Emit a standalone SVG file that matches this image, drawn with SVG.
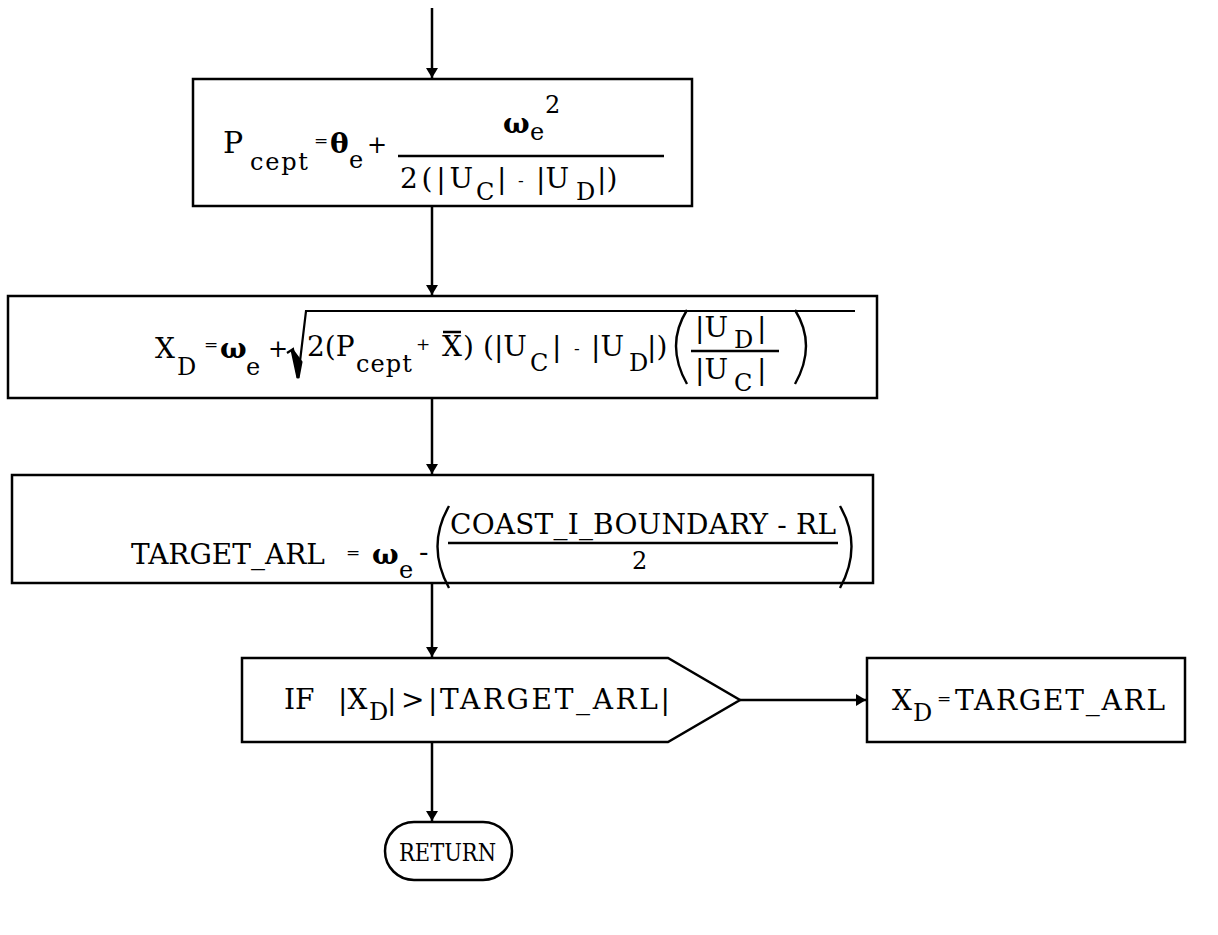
<svg xmlns="http://www.w3.org/2000/svg" width="1218" height="935" viewBox="0 0 1218 935">
<defs>
<style>
.box{fill:#fff;stroke:#000;stroke-width:2.5}
.ln{stroke:#000;stroke-width:2.5;fill:none}
.t{font-family:"DejaVu Serif","Liberation Serif",serif;font-size:28px;fill:#000}
.s{font-family:"DejaVu Serif","Liberation Serif",serif;font-size:24px;fill:#000}
.b{font-weight:bold}
.sm{font-family:"DejaVu Serif","Liberation Serif",serif;font-size:17px;fill:#000}
.r{font-family:"DejaVu Serif","Liberation Serif",serif;font-size:25px;fill:#000}
</style>
<marker id="ah" viewBox="0 0 10 16" refX="10" refY="8" markerWidth="10" markerHeight="16" markerUnits="userSpaceOnUse" orient="auto">
<path d="M0,2 L10,8 L0,14 Z" fill="#000"/>
</marker>
</defs>
<rect width="1218" height="935" fill="#fff"/>
<g id="connectors">
<line class="ln" x1="432" y1="8" x2="432" y2="78" marker-end="url(#ah)"/>
<line class="ln" x1="432" y1="206" x2="432" y2="295" marker-end="url(#ah)"/>
<line class="ln" x1="432" y1="398" x2="432" y2="474" marker-end="url(#ah)"/>
<line class="ln" x1="432" y1="583" x2="432" y2="657" marker-end="url(#ah)"/>
<line class="ln" x1="740" y1="700" x2="866" y2="700" marker-end="url(#ah)"/>
<line class="ln" x1="432" y1="742" x2="432" y2="821" marker-end="url(#ah)"/>
</g>
<g id="n1">
<rect class="box" x="193" y="79" width="499" height="127"/>
<text class="t" x="223" y="153" style="font-size:30px">P</text>
<text class="s" x="250" y="170" textLength="58">cept</text>
<text class="sm" x="314" y="146">=</text>
<text class="t b" x="330" y="153">θ</text>
<text class="s" x="349" y="168">e</text>
<text class="s" x="367" y="153">+</text>
<line class="ln" x1="398" y1="156" x2="664" y2="156" stroke-width="2"/>
<text class="t b" x="503" y="133">ω</text>
<text class="s" x="530" y="140">e</text>
<text class="s" x="545" y="113">2</text>
<text class="t" x="400" y="188" textLength="73">2(|U</text>
<text class="s" x="476" y="200">C</text>
<text class="t" x="497" y="188">|</text>
<text class="sm" x="518" y="186">-</text>
<text class="t" x="536" y="188">|U</text>
<text class="s" x="576" y="200">D</text>
<text class="t" x="597" y="188">|)</text>
</g>
<g id="n2">
<rect class="box" x="8" y="296" width="869" height="102"/>
<text class="t" x="155" y="358">X</text>
<text class="s" x="177" y="375">D</text>
<text class="sm" x="204" y="350">=</text>
<text class="t b" x="220" y="358">ω</text>
<text class="s" x="246" y="375">e</text>
<text class="s" x="268" y="357">+</text>
<path d="M287,353 L293,349 L298,378 L306,311 L855,311" fill="none" stroke="#000" stroke-width="2.2"/>
<path d="M292,350 L298,378 L301,362 Z" fill="#000" stroke="#000" stroke-width="3"/>
<text class="t" x="307" y="356">2(P</text>
<text class="s" x="356" y="372" textLength="56">cept</text>
<text class="sm" x="416" y="350">+</text>
<text class="t" x="442" y="356">X</text>
<line class="ln" x1="443" y1="332" x2="461" y2="332" stroke-width="1.5"/>
<text class="t" x="463" y="356">)</text>
<text class="t" x="483" y="356">(|U</text>
<text class="s" x="530" y="371">C</text>
<text class="t" x="552" y="356">|</text>
<text class="sm" x="574" y="354">-</text>
<text class="t" x="591" y="356">|U</text>
<text class="s" x="629" y="371">D</text>
<text class="t" x="647" y="356">|)</text>
<path d="M687,310 Q665,345 687,384" fill="none" stroke="#000" stroke-width="2.4"/>
<text class="t" x="695" y="337">|U</text>
<text class="s" x="734" y="348">D</text>
<text class="t" x="757" y="337">|</text>
<line class="ln" x1="691" y1="351" x2="779" y2="351" stroke-width="2"/>
<text class="t" x="695" y="379">|U</text>
<text class="s" x="734" y="391">C</text>
<text class="t" x="757" y="379">|</text>
<path d="M795,310 Q817,345 795,384" fill="none" stroke="#000" stroke-width="2.4"/>
</g>
<g id="n3">
<rect class="box" x="12" y="475" width="861" height="108"/>
<text class="t" x="131" y="564">TARGET_ARL</text>
<text class="sm" x="346" y="558">=</text>
<text class="t b" x="372" y="564">ω</text>
<text class="s" x="399" y="578">e</text>
<text class="t" x="419" y="561">-</text>
<path d="M449,506 Q426,546 449,588" fill="none" stroke="#000" stroke-width="2.4"/>
<text class="t" x="450" y="534" textLength="386">COAST_I_BOUNDARY - RL</text>
<line class="ln" x1="448" y1="543" x2="838" y2="543" stroke-width="2"/>
<text class="s" x="632" y="569">2</text>
<path d="M840,506 Q863,546 840,588" fill="none" stroke="#000" stroke-width="2.4"/>
</g>
<g id="n4">
<polygon class="box" points="242,658 668,658 740,700 668,742 242,742"/>
<text class="t" x="284" y="709">IF</text>
<text class="t" x="338" y="709">|X</text>
<text class="s" x="369" y="720">D</text>
<text class="t" x="387" y="709">|</text>
<text class="t" x="401" y="709">&gt;</text>
<text class="t" x="428" y="709" textLength="242">|TARGET_ARL|</text>
</g>
<g id="n5">
<rect class="box" x="867" y="658" width="318" height="84"/>
<text class="t" x="892" y="710">X</text>
<text class="s" x="913" y="721">D</text>
<text class="sm" x="937" y="704">=</text>
<text class="t" x="955" y="710" textLength="210">TARGET_ARL</text>
</g>
<g id="n6">
<rect class="box" x="385" y="822" width="127" height="58" rx="29" ry="29"/>
<text class="r" x="399" y="861" textLength="97" lengthAdjust="spacingAndGlyphs">RETURN</text>
</g>
</svg>
